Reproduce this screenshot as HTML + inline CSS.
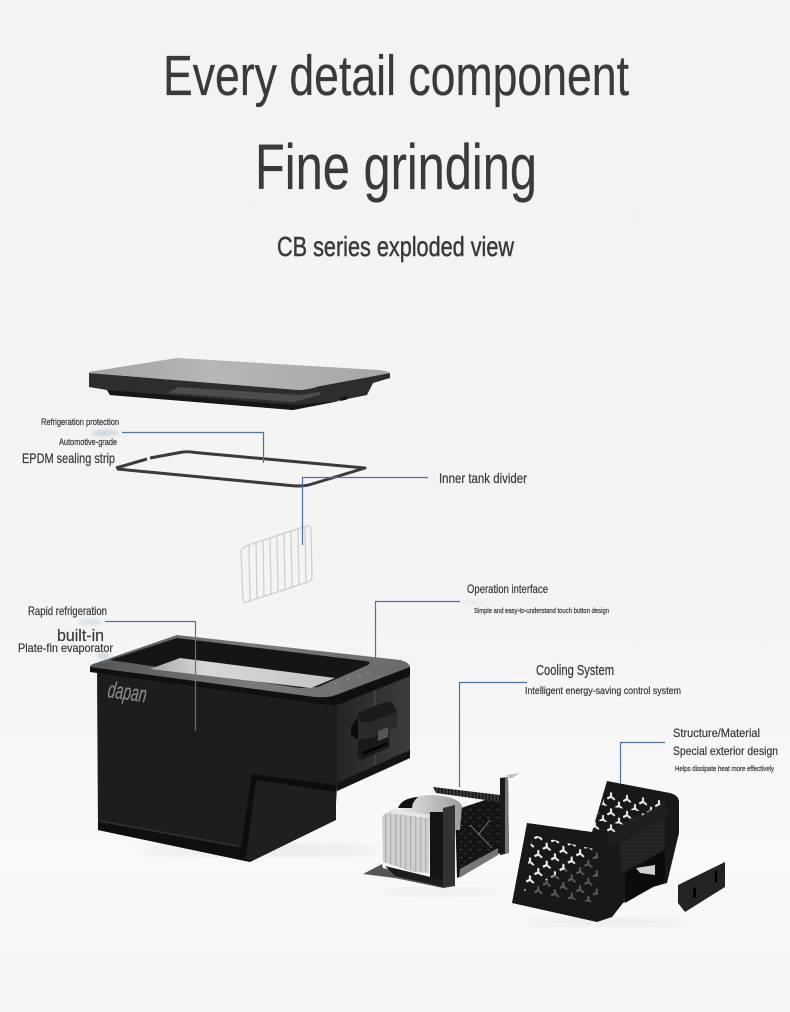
<!DOCTYPE html>
<html><head><meta charset="utf-8"><title>CB series exploded view</title>
<style>html,body{margin:0;padding:0;background:#f4f4f4}svg{display:block}text{font-family:"Liberation Sans Narrow","Liberation Sans",sans-serif;fill:#3a3a3a;stroke:#3a3a3a;stroke-width:.22px}</style></head>
<body>
<svg xmlns="http://www.w3.org/2000/svg" width="790" height="1012" viewBox="0 0 790 1012">
<defs>
<linearGradient id="bg" x1="0" y1="0" x2="0" y2="1"><stop offset="0" stop-color="#f3f3f3"/><stop offset=".6" stop-color="#f4f4f4"/><stop offset=".85" stop-color="#f9f9f9"/><stop offset="1" stop-color="#f5f5f5"/></linearGradient>
<linearGradient id="lidtop" x1="0" y1="0" x2="1" y2="0"><stop offset="0" stop-color="#a2a2a2"/><stop offset=".4" stop-color="#b6b6b6"/><stop offset="1" stop-color="#a6a6a6"/></linearGradient>
<linearGradient id="side" x1="0" y1="0" x2="1" y2="0"><stop offset="0" stop-color="#242424"/><stop offset="1" stop-color="#3c3c3c"/></linearGradient>
<linearGradient id="rim" x1="0" y1="0" x2="1" y2="0"><stop offset="0" stop-color="#555"/><stop offset=".5" stop-color="#7a7a7a"/><stop offset="1" stop-color="#6a6a6a"/></linearGradient>
<linearGradient id="silver" x1="0" y1="0" x2="1" y2="0"><stop offset="0" stop-color="#e6e6e6"/><stop offset="1" stop-color="#9c9c9c"/></linearGradient>
<linearGradient id="floor" x1="0" y1="0" x2="1" y2="0"><stop offset="0" stop-color="#a8a8a8"/><stop offset=".3" stop-color="#d8d8d8"/><stop offset="1" stop-color="#c4c4c4"/></linearGradient>
<filter id="b6"><feGaussianBlur stdDeviation="6"/></filter><filter id="b2"><feGaussianBlur stdDeviation="2"/></filter>
<g id="star"><path d="M0 0V-4.2M0 0L3.8 2.6M0 0L-3.8 2.6" stroke-width="2" fill="none"/></g>
<pattern id="holesW" width="16.7" height="18" patternUnits="userSpaceOnUse" patternTransform="translate(526 838) skewY(11)">
<use href="#star" x="4" y="5" stroke="#f1f1f1"/><use href="#star" x="12.3" y="14" stroke="#f1f1f1"/></pattern>
<pattern id="holesG" width="16.7" height="18" patternUnits="userSpaceOnUse" patternTransform="translate(526 838) skewY(11)">
<use href="#star" x="4" y="5" stroke="#5c5c5c"/><use href="#star" x="12.3" y="14" stroke="#5c5c5c"/></pattern>
<pattern id="holesR" width="16" height="16" patternUnits="userSpaceOnUse" patternTransform="translate(607 790) skewY(9)">
<use href="#star" x="4" y="6" stroke="#f1f1f1"/><use href="#star" x="12" y="14" stroke="#f1f1f1"/></pattern>
<pattern id="fins" width="5" height="8" patternUnits="userSpaceOnUse"><rect width="5" height="8" fill="#d0d0d0"/><rect width="1.3" height="8" fill="#b0b0b0"/></pattern>
<pattern id="mesh" width="4" height="4" patternUnits="userSpaceOnUse"><rect width="4" height="4" fill="#212121"/><circle cx="2" cy="2" r=".8" fill="#343434"/></pattern>
<pattern id="pins" width="3.4" height="8" patternUnits="userSpaceOnUse"><rect width="3.4" height="8" fill="#1a1a1a"/><rect x="1" width="1.2" height="8" fill="#4a4a4a"/></pattern>
<pattern id="pcb" width="9" height="8" patternUnits="userSpaceOnUse"><rect width="9" height="8" fill="#141414"/><rect x="1" y="1" width="3" height="1.2" fill="#3a3a3a"/><rect x="5" y="5" width="2" height="1" fill="#2e2e2e"/></pattern>
</defs>
<rect width="790" height="1012" fill="url(#bg)"/>

<!-- headings -->
<g style="stroke-width:1.3px">
<text x="163" y="95" font-size="57" textLength="466" lengthAdjust="spacingAndGlyphs">Every detail component</text>
<text x="255" y="189" font-size="64" textLength="282" lengthAdjust="spacingAndGlyphs">Fine grinding</text>
</g>
<text x="277" y="256" font-size="28" textLength="237" lengthAdjust="spacingAndGlyphs" style="stroke-width:.5px">CB series exploded view</text>

<!-- lid -->
<path d="M89 373V387L107 390L110 395L293 410L367 395L373 383L390 378V373L320 386L300 390Z" fill="#2d2d2d"/>
<path d="M168 393L178 387L300 395L320 392V395L293 402Z" fill="#4c4c4c"/>
<path d="M107 390L110 395L293 410L340 401L293 405Z" fill="#161616"/>
<path d="M89 373Q90 371 95 371L177 358L378 370Q389 371 390 373L320 386Q308 390 298 390Z" fill="url(#lidtop)"/>
<rect x="340" y="397" width="7" height="3.4" fill="#111" transform="rotate(-14 343 398)"/>

<!-- gasket -->
<path d="M116 468L147 459M150 458L180 452.5Q187 451 195 452.5L365 468L312 484Q303 487 290 485.5L117 469" fill="none" stroke="#3b3b3b" stroke-width="3" stroke-linejoin="round"/>

<!-- wire divider -->
<g fill="none" stroke="#cfcfcf" stroke-width="1.3">
<path d="M246 546L306 526Q311 525 311 530L312 577Q312 581 308 582L247 602Q243 603 243 599L241 552Q241 548 246 546Z"/>
<path d="M249 545L250 601M256 543L257 599M263 541L264 597M270 538L271 595M277 536L278 592M284 533L285 590M291 531L292 588M298 529L299 585M305 527L306 583"/>
</g>

<!-- main box -->
<ellipse cx="260" cy="850" rx="120" ry="6" fill="#e6e6e6" filter="url(#b6)"/>
<path d="M335 703L410 673V758L337 791Z" fill="url(#side)"/>
<path d="M337 783L410 750V758L337 791Z" fill="#141414"/>
<path d="M375 680V765" stroke="#555" stroke-width=".8"/>
<path d="M97 670L337 700V787L335 820L250 862L98 830Z" fill="#1d1d1d"/>
<path d="M98 822L240 848L250 856V862L98 830Z" fill="#0f0f0f"/>
<path d="M100 821L238 846" stroke="#3f3f3f" stroke-width=".8"/>
<path d="M252 775L336 786V820L250 862L240 853Z" fill="#1f1f1f"/>
<path d="M252 774L336 785V792L256 780L246 857L240 853Z" fill="#0d0d0d"/>
<path d="M90 666L90 672L335 706L410 676V666L333 695Z" fill="#101010"/>
<path d="M90 667Q90 665 93 664L177 635L400 660Q409 662 410 667L336 695Q328 698 315 697Z" fill="url(#rim)"/>
<path d="M110 660L177 638L366 661Q372 662 368 665L318 687L300 688Z" fill="#151515"/>
<path d="M150 669L180 658L335 678L311 688Z" fill="url(#floor)"/>
<g fill="#9a9a9a"><circle cx="336" cy="683" r=".9"/><circle cx="348" cy="679" r=".9"/><circle cx="359" cy="676" r=".9"/><circle cx="368" cy="673" r=".9"/></g>
<text x="107" y="697" font-size="23" font-style="italic" textLength="39" lengthAdjust="spacingAndGlyphs" transform="rotate(8 107 697)" style="fill:#8a8a8a;stroke:#8a8a8a">dapan</text>
<!-- handle -->
<path d="M358 740L373 737L388 728L390 747L362 760L358 757Z" fill="#1a1a1a"/>
<path d="M351 727L358 717V740L351 735Z" fill="#0c0c0c"/>
<path d="M358 713L383 703L392 702L397 712V727L373 737L362 738L358 730Z" fill="#2a2a2a"/>
<path d="M358 713L383 703L392 702L397 712L370 722L360 722Z" fill="#1a1a1a"/>
<path d="M363 752L387 742V745L363 755Z" fill="#000"/>
<path d="M378 731L388 727V737L378 741Z" fill="#555"/>

<!-- cooling system -->
<ellipse cx="440" cy="892" rx="60" ry="4" fill="#e6e6e6" filter="url(#b6)"/>
<path d="M455 810L500 795V853L457 878Z" fill="url(#pcb)"/>
<path d="M433 787L500 795V802L436 793Z" fill="url(#pins)"/>
<path d="M460 869L498 848V855L459 878Z" fill="#777"/>
<path d="M500 778L508 777L509 853L500 855Z" fill="#1a1a1a"/>
<path d="M505 777L508 777L509 853L505 854Z" fill="#777"/>
<path d="M507 775L520 773L512 778H507Z" fill="#bdbdbd"/>
<path d="M400 808Q405 796 430 795Q458 796 462 806L460 830L400 830Z" fill="url(#silver)"/>
<path d="M398 808Q402 798 418 797Q412 802 412 808Z" fill="#111"/>
<path d="M430 812H445V882L430 878Z" fill="#141414"/>
<path d="M363 874L382 864L383 868L412 875L443 882V888L395 878Z" fill="#555"/>
<path d="M385 866L443 880V887L395 876Z" fill="#1c1c1c"/>
<path d="M382 816L393 809L430 815L429 873L413 872L383 862Z" fill="url(#fins)"/>
<path d="M393 809L430 815L427 818L388 813Z" fill="#e6e6e6"/>
<path d="M443 808L455 805V886L443 888Z" fill="#333"/>
<path d="M470 825L492 848M478 835L490 820" stroke="#7d7d7d" stroke-width=".9" fill="none"/>

<!-- cage -->
<ellipse cx="605" cy="922" rx="80" ry="4" fill="#e6e6e6" filter="url(#b6)"/>
<path d="M527 823L592 832L607 781L670 793Q678 795 679 801V833L667 883L653 887L623 903L612 917L597 922L512 903Z" fill="#181818"/>
<path d="M620 843L665 815V850L622 872Z" fill="url(#mesh)"/>
<path d="M625 873L665 850V880L653 887L625 903Z" fill="#0b0b0b"/>
<path d="M636 868L655 865V875L640 873Z" fill="#cfcfcf"/>
<path d="M607 832L665 800L668 813L625 838L612 845Z" fill="#1f1f1f"/>
<path d="M532 835L598 850V903L525 893Z" fill="url(#holesG)"/>
<path d="M532 835L598 850L524 893Z" fill="url(#holesW)"/>
<path d="M607 791L668 800L615 832L592 830Z" fill="url(#holesR)"/>
<!-- small part -->
<path d="M678 885L725 862V887L685 912L678 903Z" fill="#232323"/>
<path d="M693 888l3-1v10l-3 1zM715 871l2-1v12l-2 1z" fill="#000"/>

<!-- soft label glows -->
<g filter="url(#b2)">
<ellipse cx="105" cy="433" rx="14" ry="2.5" fill="#c4d0dc"/>
<ellipse cx="90" cy="622" rx="12" ry="2.5" fill="#d0dae4"/>
<ellipse cx="103" cy="656" rx="6" ry="3" fill="#c9d2dc"/>
<ellipse cx="474" cy="603" rx="12" ry="2" fill="#e4e6e8"/>
</g>

<!-- leader lines -->
<g fill="none" stroke="#4c75a6" stroke-width="1.2">
<path d="M122 432.5H263.5V463"/>
<path d="M302.5 545V477.5H428"/>
<path d="M105 621.5H195.5V731"/>
<path d="M375.5 680V601.5H460"/>
<path d="M459.5 787V682.5H527"/>
<path d="M620.5 783V742.5H665"/>
</g>

<!-- labels -->
<text x="41" y="425" font-size="9" textLength="78" lengthAdjust="spacingAndGlyphs">Refrigeration protection</text>
<text x="59" y="445" font-size="9" textLength="58" lengthAdjust="spacingAndGlyphs">Automotive-grade</text>
<text x="22" y="463" font-size="14" textLength="93" lengthAdjust="spacingAndGlyphs">EPDM sealing strip</text>
<text x="439" y="483" font-size="14" textLength="88" lengthAdjust="spacingAndGlyphs">Inner tank divider</text>
<text x="467" y="593" font-size="12" textLength="81" lengthAdjust="spacingAndGlyphs">Operation interface</text>
<text x="474" y="613" font-size="7.5" textLength="135" lengthAdjust="spacingAndGlyphs">Simple and easy-to-understand touch button design</text>
<text x="28" y="615" font-size="12" textLength="79" lengthAdjust="spacingAndGlyphs">Rapid refrigeration</text>
<text x="57" y="641" font-size="17" textLength="47" lengthAdjust="spacingAndGlyphs">built-in</text>
<text x="18" y="652" font-size="12" textLength="95" lengthAdjust="spacingAndGlyphs">Plate-fin evaporator</text>
<text x="536" y="675" font-size="14.5" textLength="78" lengthAdjust="spacingAndGlyphs">Cooling System</text>
<text x="525" y="694" font-size="10.5" textLength="156" lengthAdjust="spacingAndGlyphs">Intelligent energy-saving control system</text>
<text x="673" y="737" font-size="12" textLength="87" lengthAdjust="spacingAndGlyphs">Structure/Material</text>
<text x="673" y="755" font-size="12" textLength="105" lengthAdjust="spacingAndGlyphs">Special exterior design</text>
<text x="675" y="771" font-size="7.5" textLength="99" lengthAdjust="spacingAndGlyphs">Helps dissipate heat more effectively</text>
</svg>
</body></html>
